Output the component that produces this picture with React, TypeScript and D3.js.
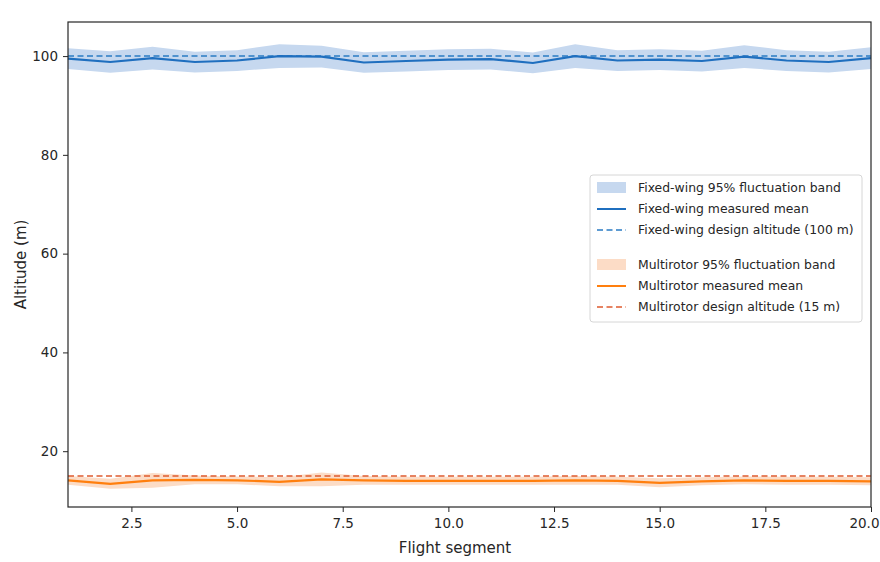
import * as d3 from "d3";
import { useEffect, useRef } from "react";

// flight segments 1..20
const segments = [1, 2, 3, 4, 5, 6, 7, 8, 9, 10, 11, 12, 13, 14, 15, 16, 17, 18, 19, 20];

// fixed-wing: measured mean altitude and half-width of the 95% band (m)
const fixedWingMean = [99.5, 98.8, 99.6, 98.8, 99.1, 100.0, 99.9, 98.7, 99.0, 99.3,
  99.4, 98.6, 100.0, 99.1, 99.3, 99.0, 99.9, 99.1, 98.8, 99.6];
const fixedWingBand = [2.1, 2.2, 2.3, 2.1, 2.1, 2.4, 2.2, 2.1, 2.1, 2.1,
  2.1, 2.1, 2.4, 2.1, 2.1, 2.1, 2.3, 2.1, 2.1, 2.2];
const fixedWingDesign = 100;

// multirotor
const multirotorMean = [14.1, 13.4, 14.1, 14.2, 14.1, 13.8, 14.3, 14.1, 14.0, 14.0,
  14.0, 14.0, 14.1, 14.0, 13.6, 13.9, 14.1, 14.0, 14.0, 13.9];
const multirotorBand = [0.9, 1.0, 1.5, 0.9, 0.8, 0.9, 1.4, 0.9, 0.8, 0.8,
  0.8, 0.8, 0.9, 0.8, 0.9, 0.8, 0.8, 0.8, 0.8, 0.8];
const multirotorDesign = 15;

const xTicks = [2.5, 5.0, 7.5, 10.0, 12.5, 15.0, 17.5, 20.0];
const yTicks = [20, 40, 60, 80, 100];

const legendItems = [
  { label: "Fixed-wing 95% fluctuation band", kind: "band", color: "#c6d8ef" },
  { label: "Fixed-wing measured mean", kind: "line", color: "#1f6fbf" },
  { label: "Fixed-wing design altitude (100 m)", kind: "dash", color: "#2a7bc4" },
  { label: "Multirotor 95% fluctuation band", kind: "band", color: "#fcdcc6" },
  { label: "Multirotor measured mean", kind: "line", color: "#ff7f0e" },
  { label: "Multirotor design altitude (15 m)", kind: "dash", color: "#de5b2f" },
];

const FONT = "'DejaVu Sans', sans-serif";
const INK = "#262626";

function App() {
  const svgRef = useRef(null);

  useEffect(() => {
    const svg = d3.select(svgRef.current);
    svg.selectAll("*").remove();

    const left = 68, right = 871, top = 22, bottom = 507;
    const x = d3.scaleLinear().domain([1, 20]).range([left, right]);
    const y = d3.scaleLinear().domain([8.7, 106.9]).range([bottom, top]);

    const plot = svg.append("g");

    const band = (mean, half) =>
      d3.area()
        .x((d, i) => x(segments[i]))
        .y0((d, i) => y(mean[i] - half[i]))
        .y1((d, i) => y(mean[i] + half[i]))(mean);

    const meanLine = d3.line().x((d, i) => x(segments[i])).y((d) => y(d));

    plot.append("path").attr("d", band(fixedWingMean, fixedWingBand)).attr("fill", "#c6d8ef");
    plot.append("path").attr("d", band(multirotorMean, multirotorBand)).attr("fill", "#fcdcc6");

    plot.append("line")
      .attr("x1", x(1)).attr("x2", x(20))
      .attr("y1", y(fixedWingDesign)).attr("y2", y(fixedWingDesign))
      .attr("stroke", "#2a7bc4").attr("stroke-width", 1.5).attr("stroke-dasharray", "6,3.5");
    plot.append("line")
      .attr("x1", x(1)).attr("x2", x(20))
      .attr("y1", y(multirotorDesign)).attr("y2", y(multirotorDesign))
      .attr("stroke", "#de5b2f").attr("stroke-width", 1.5).attr("stroke-dasharray", "6,3.5");

    plot.append("path").attr("d", meanLine(fixedWingMean))
      .attr("fill", "none").attr("stroke", "#1f6fbf").attr("stroke-width", 2.2);
    plot.append("path").attr("d", meanLine(multirotorMean))
      .attr("fill", "none").attr("stroke", "#ff7f0e").attr("stroke-width", 2.2);

    // axes
    const xAxis = svg.append("g").attr("transform", `translate(0,${bottom})`)
      .call(d3.axisBottom(x).tickValues(xTicks).tickFormat(d3.format(".1f")).tickSize(5).tickPadding(6));
    const yAxis = svg.append("g").attr("transform", `translate(${left},0)`)
      .call(d3.axisLeft(y).tickValues(yTicks).tickSize(5).tickPadding(5));
    [xAxis, yAxis].forEach((g) => {
      g.select(".domain").remove();
      g.selectAll("line").attr("stroke", INK);
      g.selectAll("text").attr("font-family", FONT).attr("font-size", 13.5).attr("fill", INK);
    });
    // last x label sits against the right edge of the figure
    xAxis.selectAll("text").filter((d) => d === 20).attr("text-anchor", "end").attr("dx", 8);

    svg.append("rect")
      .attr("x", left).attr("y", top).attr("width", right - left).attr("height", bottom - top)
      .attr("fill", "none").attr("stroke", INK).attr("stroke-width", 1.2);

    svg.append("text")
      .attr("x", 455).attr("y", 553)
      .attr("text-anchor", "middle")
      .attr("font-family", FONT).attr("font-size", 15).attr("fill", INK)
      .text("Flight segment");
    svg.append("text")
      .attr("transform", `translate(26,${(top + bottom) / 2}) rotate(-90)`)
      .attr("text-anchor", "middle")
      .attr("font-family", FONT).attr("font-size", 15).attr("fill", INK)
      .text("Altitude (m)");

    // legend
    const lg = svg.append("g");
    lg.append("rect")
      .attr("x", 590).attr("y", 175).attr("width", 272).attr("height", 147)
      .attr("rx", 3).attr("fill", "white").attr("fill-opacity", 0.85)
      .attr("stroke", "#d6d6d6");
    legendItems.forEach((item, i) => {
      const cy = 188 + i * 21 + (i >= 3 ? 14 : 0);
      if (item.kind === "band") {
        lg.append("rect").attr("x", 597).attr("y", cy - 6).attr("width", 29).attr("height", 11)
          .attr("fill", item.color);
      } else {
        lg.append("line").attr("x1", 597).attr("x2", 626).attr("y1", cy).attr("y2", cy)
          .attr("stroke", item.color).attr("stroke-width", item.kind === "line" ? 2 : 1.5)
          .attr("stroke-dasharray", item.kind === "dash" ? "6,3.5" : null);
      }
      lg.append("text")
        .attr("x", 638).attr("y", cy).attr("dy", "0.35em")
        .attr("font-family", FONT).attr("font-size", 12.4).attr("fill", INK)
        .text(item.label);
    });
  }, []);

  return (
    <svg ref={svgRef} width={880} height={562} style={{ display: "block", position: "absolute", left: 0, top: 0 }}>
    </svg>
  );
}

export default App;
